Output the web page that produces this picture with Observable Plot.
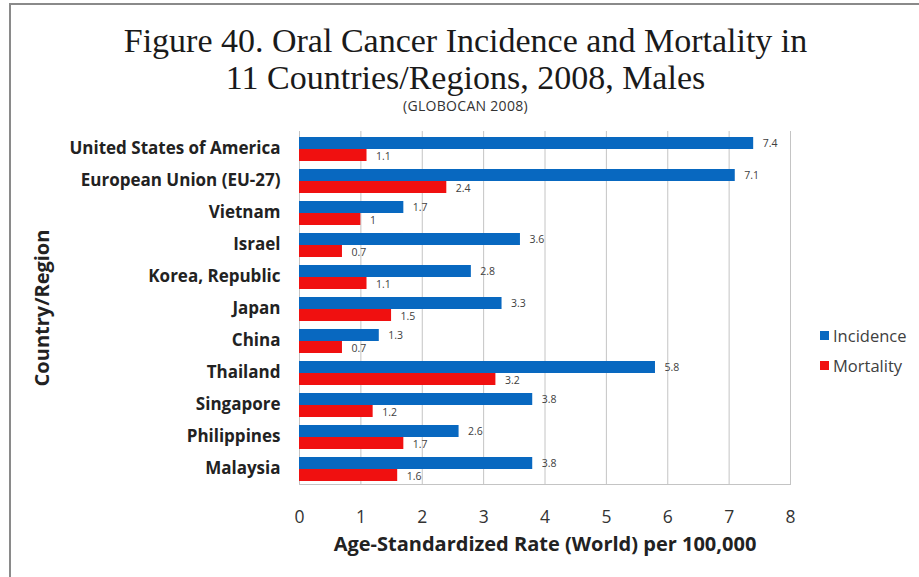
<!DOCTYPE html>
<html><head><meta charset="utf-8">
<script src="https://cdn.jsdelivr.net/npm/d3@7"></script>
<script src="https://cdn.jsdelivr.net/npm/@observablehq/plot@0.6"></script>
<style>
body{margin:0;background:#fff;}
#wrap{position:relative;width:919px;height:577px;overflow:hidden;font-family:"Open Sans",sans-serif;background:#fff;}
#border{position:absolute;left:9px;top:3px;right:-5px;bottom:-5px;border-top:2px solid #8a8a8a;border-left:2px solid #8a8a8a;}
#title{position:absolute;top:0;left:6px;width:919px;text-align:center;padding-top:22px;}
#title .t{font-family:"Liberation Serif","Times New Roman",serif;font-size:34px;line-height:37px;color:#1a1a1a;}
#title .s{font-family:"Open Sans",sans-serif;font-size:14px;line-height:15px;color:#333;margin-top:2px;letter-spacing:0.3px;}
#chart{position:absolute;left:0;top:118px;}
#legend{position:absolute;left:820px;top:320px;font-family:"Open Sans",sans-serif;font-size:16.5px;color:#404040;}
#legend div{height:30px;display:flex;align-items:center;}
#legend span.sw{display:inline-block;width:9px;height:9px;margin-right:4px;}
</style></head>
<body>
<div id="wrap">
  <div id="border"></div>
  <div id="title">
    <div class="t">Figure 40. Oral Cancer Incidence and Mortality in<br>11 Countries/Regions, 2008, Males</div>
    <div class="s">(GLOBOCAN 2008)</div>
  </div>
  <div id="chart"></div>
  <div id="legend"></div>
</div>
<script>
const countries = ["United States of America","European Union (EU-27)","Vietnam","Israel","Korea, Republic","Japan","China","Thailand","Singapore","Philippines","Malaysia"];
const incidence = [7.4, 7.1, 1.7, 3.6, 2.8, 3.3, 1.3, 5.8, 3.8, 2.6, 3.8];
const mortality = [1.1, 2.4, 1, 0.7, 1.1, 1.5, 0.7, 3.2, 1.2, 1.7, 1.6];
const seriesNames = ["Incidence","Mortality"];
const seriesColors = ["#0868c0","#f01010"];
const xTicks = [0,1,2,3,4,5,6,7,8];
const xLabel = "Age-Standardized Rate (World) per 100,000";
const yLabel = "Country/Region";

const rows = countries.map((c,i)=>({country:c, incidence:incidence[i], mortality:mortality[i]}));

const chart = Plot.plot({
  width: 919, height: 459,
  marginTop: 13, marginBottom: 93, marginLeft: 299, marginRight: 129,
  style: {fontFamily: "'Open Sans', sans-serif", background: "transparent"},
  x: {domain: [0, 8], ticks: xTicks},
  y: {domain: countries, padding: 0},
  marks: [
    Plot.gridX(xTicks, {stroke: "#c4c4c4", strokeOpacity: 1}),
    Plot.frame({anchor: "bottom", stroke: "#c4c4c4"}),
    Plot.frame({anchor: "left", stroke: "#c4c4c4"}),
    Plot.barX(rows, {x: "incidence", y: "country", fill: seriesColors[0], insetTop: 5, insetBottom: 15}),
    Plot.barX(rows, {x: "mortality", y: "country", fill: seriesColors[1], insetTop: 17, insetBottom: 3}),
    Plot.text(rows, {x: "incidence", y: "country", text: d => String(d.incidence), dx: 9, dy: -5, textAnchor: "start", fontSize: 10.5, fill: "#404040"}),
    Plot.text(rows, {x: "mortality", y: "country", text: d => String(d.mortality), dx: 9, dy: 8, textAnchor: "start", fontSize: 10.5, fill: "#404040"}),
    Plot.axisX(xTicks, {tickSize: 0, tickPadding: 26, fontSize: 17.5, fill: "#333", label: null}),
    Plot.axisY({tickSize: 0, tickPadding: 19, fontSize: 17, fontWeight: "bold", fill: "#222", label: null}),
    Plot.text([xLabel], {text: d => d, frameAnchor: "bottom", dy: 66, fontSize: 20, fontWeight: "bold", fill: "#222"}),
    Plot.text([yLabel], {text: d => d, frameAnchor: "left", textAnchor: "middle", dx: -257, rotate: -90, fontSize: 20, fontWeight: "bold", fill: "#222"})
  ]
});
document.getElementById("chart").appendChild(chart);

const lg = document.getElementById("legend");
seriesNames.forEach((n,i)=>{
  const d = document.createElement("div");
  d.innerHTML = `<span class="sw" style="background:${seriesColors[i]}"></span>${n}`;
  lg.appendChild(d);
});
</script>
</body></html>
